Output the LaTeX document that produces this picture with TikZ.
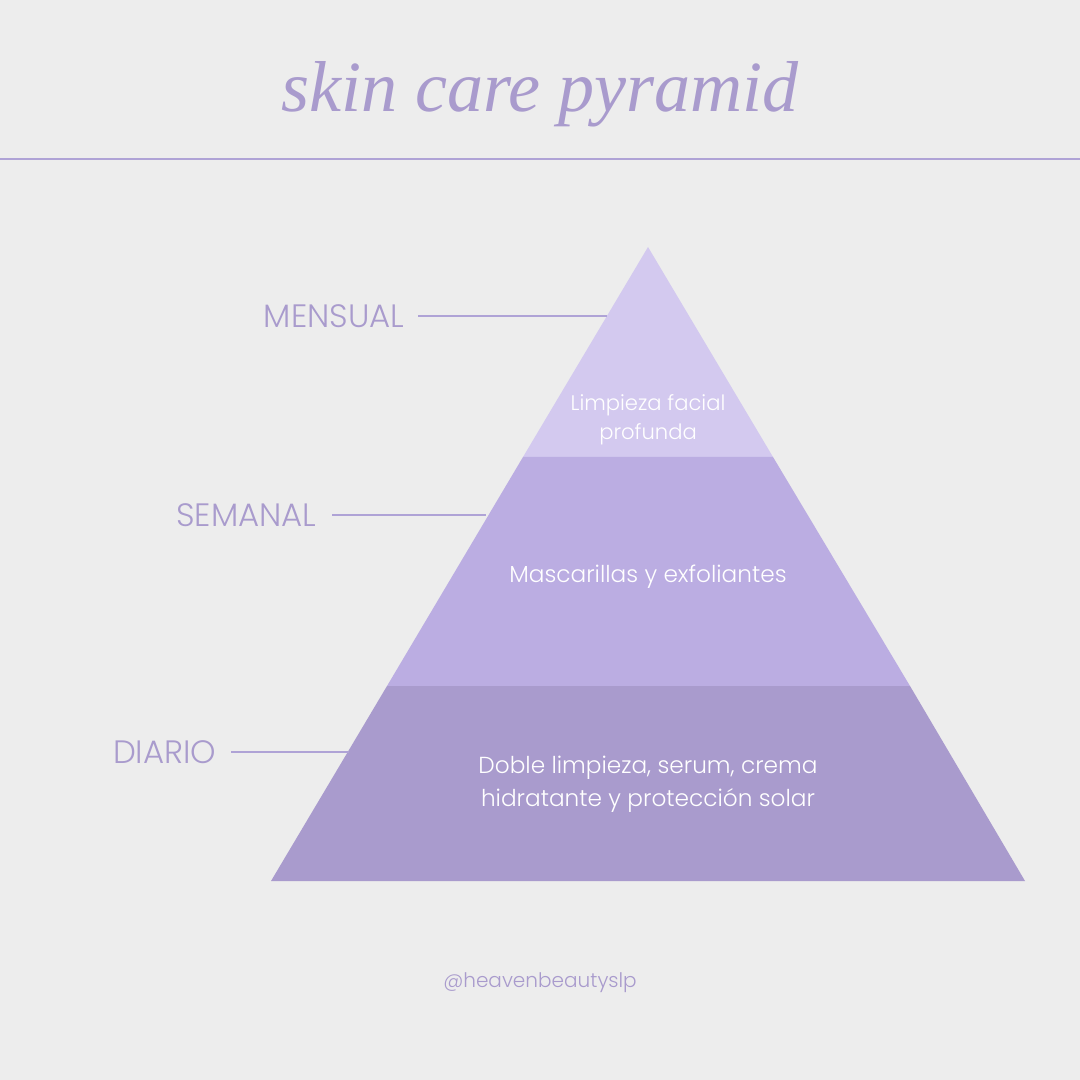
\documentclass[tikz,border=0pt]{standalone}
\usepackage{fontspec}
\setmainfont{Poppins}[UprightFont={* Light}]
\newfontfamily\titlefont{Liberation Serif}
\usepackage{xcolor}
\usepackage{tikz}
\usetikzlibrary{positioning}

\definecolor{bgGray}{HTML}{EDEDED}
\definecolor{lavLine}{HTML}{AFA3D6}
\definecolor{lavText}{HTML}{A99BCD}
\definecolor{tierTop}{HTML}{D3C9EF}
\definecolor{tierMid}{HTML}{BBADE2}
\definecolor{tierBase}{HTML}{A99BCD}

\begin{document}
\begin{tikzpicture}[
    x=0.01cm, y=-0.01cm,
    freq/.style={font=\fontsize{9.2}{11}\selectfont, text=lavText, anchor=east, inner sep=0pt},
    tiertext/.style={font=\fontsize{6.6}{9.4}\selectfont, text=white, align=center},
    leader/.style={draw=lavLine, line width=0.6pt}
]

% Background
\fill[bgGray] (0,0) rectangle (1080,1080);
\useasboundingbox (0,0) rectangle (1080,1080);

% Title
\node[font=\titlefont\itshape\fontsize{20.5}{24}\selectfont, text=lavText] (title) at (540, 94) {skin care pyramid};
\draw[lavLine, line width=0.6pt] (0,159) -- (1080,159);

% Pyramid tiers
\fill[tierTop] (648,247) -- (773,457) -- (523,457) -- cycle;
\fill[tierMid] (523,457) -- (773,457) -- (910,686) -- (387,686) -- cycle;
\fill[tierBase] (387,686) -- (910,686) -- (1025,881) -- (271,881) -- cycle;

\node[tiertext, font=\fontsize{6}{8.3}\selectfont] (monthly) at (648, 420) {Limpieza facial\\profunda};
\node[tiertext] (weekly) at (648, 577) {Mascarillas y exfoliantes};
\node[tiertext] (daily) at (648, 784) {Doble limpieza, serum, crema\\hidratante y protección solar};

% Frequency labels
\node[freq] (mensual) at (405, 316) {MENSUAL};
\node[freq] (semanal) at (317, 515) {SEMANAL};
\node[freq] (diario) at (217, 752) {DIARIO};

\coordinate (mEdge) at (607, 316);
\coordinate (sEdge) at (486, 515);
\coordinate (dEdge) at (349, 752);

\draw[leader] ([xshift=1.3mm]mensual.east) -- (mEdge);
\draw[leader] ([xshift=1.5mm]semanal.east) -- (sEdge);
\draw[leader] ([xshift=1.4mm]diario.east) -- (dEdge);

% Footer
\node[font=\fontsize{5.7}{8}\selectfont, text=lavText] (handle) at (540, 983) {@heavenbeautyslp};

\end{tikzpicture}
\end{document}
